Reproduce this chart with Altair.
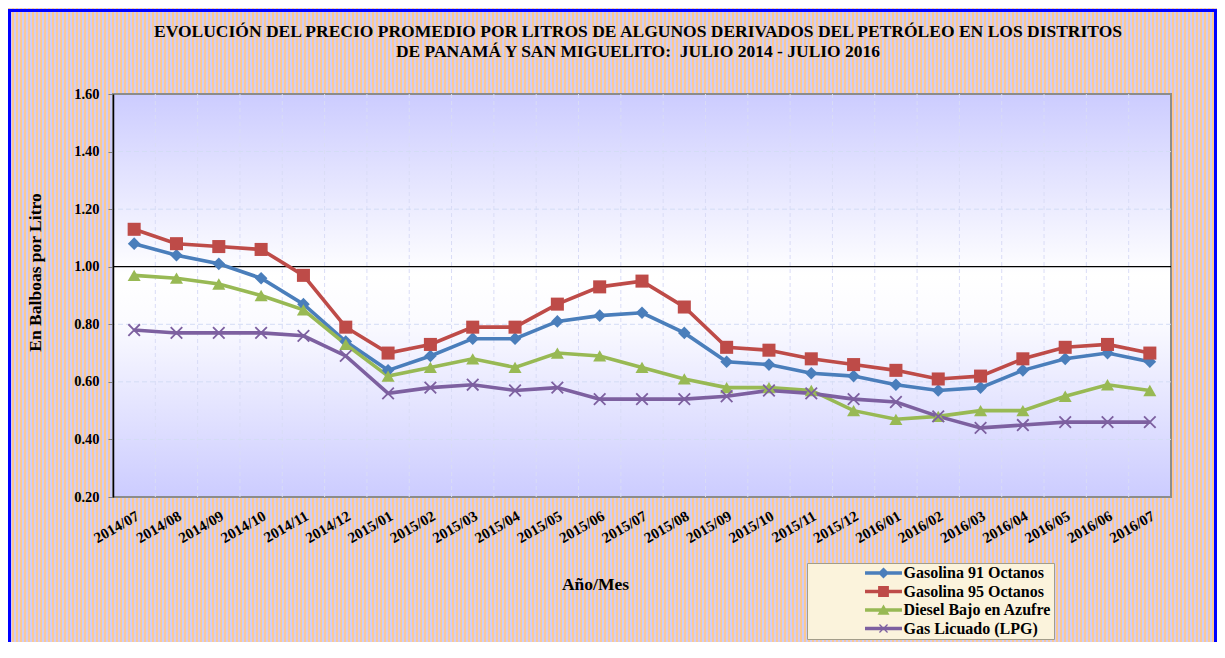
import altair as alt
import pandas as pd

# ---------------- data ----------------
meses = ["2014/07", "2014/08", "2014/09", "2014/10", "2014/11", "2014/12",
         "2015/01", "2015/02", "2015/03", "2015/04", "2015/05", "2015/06",
         "2015/07", "2015/08", "2015/09", "2015/10", "2015/11", "2015/12",
         "2016/01", "2016/02", "2016/03", "2016/04", "2016/05", "2016/06",
         "2016/07"]
gasolina91 = [1.08, 1.04, 1.01, 0.96, 0.87, 0.74, 0.64, 0.69, 0.75, 0.75, 0.81, 0.83,
              0.84, 0.77, 0.67, 0.66, 0.63, 0.62, 0.59, 0.57, 0.58, 0.64, 0.68, 0.70, 0.67]
gasolina95 = [1.13, 1.08, 1.07, 1.06, 0.97, 0.79, 0.70, 0.73, 0.79, 0.79, 0.87, 0.93,
              0.95, 0.86, 0.72, 0.71, 0.68, 0.66, 0.64, 0.61, 0.62, 0.68, 0.72, 0.73, 0.70]
diesel = [0.97, 0.96, 0.94, 0.90, 0.85, 0.73, 0.62, 0.65, 0.68, 0.65, 0.70, 0.69,
          0.65, 0.61, 0.58, 0.58, 0.57, 0.50, 0.47, 0.48, 0.50, 0.50, 0.55, 0.59, 0.57]
lpg = [0.78, 0.77, 0.77, 0.77, 0.76, 0.69, 0.56, 0.58, 0.59, 0.57, 0.58, 0.54,
       0.54, 0.54, 0.55, 0.57, 0.56, 0.54, 0.53, 0.48, 0.44, 0.45, 0.46, 0.46, 0.46]
series = ["Gasolina 91 Octanos", "Gasolina 95 Octanos", "Diesel Bajo en Azufre", "Gas Licuado (LPG)"]
y_ticks = [0.20, 0.40, 0.60, 0.80, 1.00, 1.20, 1.40, 1.60]
y_grid = [0.40, 0.60, 0.80, 1.20, 1.40]

titulo = ["EVOLUCIÓN DEL PRECIO PROMEDIO POR LITROS DE ALGUNOS DERIVADOS DEL PETRÓLEO EN LOS DISTRITOS",
          "DE PANAMÁ Y SAN MIGUELITO:\u00a0 JULIO 2014 - JULIO 2016"]

rows = []
for nombre, vals in zip(series, [gasolina91, gasolina95, diesel, lpg]):
    for m, v in zip(meses, vals):
        rows.append({"mes": m, "valor": v, "serie": nombre})
df = pd.DataFrame(rows)

# ---------------- styling ----------------
W, H = 1058, 403
PAD = {"left": 105, "top": 86, "right": 46, "bottom": 145}
TW = PAD["left"] + W + PAD["right"]
FONT = "Liberation Serif"
colores = ["#4a7ebb", "#be4b48", "#98b954", "#7d60a0"]

x_path = "M-1,-0.8L-0.8,-1L1,0.8L0.8,1Z M0.8,-1L1,-0.8L-0.8,1L-1,0.8Z"
formas = ["diamond", "square", "triangle-up", x_path]
tamanos = [160, 170, 170, 165]
LINE = "M-3.08,-0.29H3.08V0.29H-3.08Z "
formas_leyenda = [
    LINE + "M0,-0.92L0.92,0L0,0.92L-0.92,0Z",
    LINE + "M-0.9,-0.9H0.9V0.9H-0.9Z",
    LINE + "M0,-0.9L1,0.8H-1Z",
    LINE + "M-0.75,-0.6L-0.6,-0.75L0.75,0.6L0.6,0.75Z M0.6,-0.75L0.75,-0.6L-0.6,0.75L-0.75,0.6Z",
]

# striped page background (orange / lavender)
ORANGE, LAV = "#fbc994", "#cfcdf6"
stops = []
period, ow = 4.0, 1.6
k = 0.0
while k < TW:
    a = k / TW
    b = min((k + ow) / TW, 1.0)
    c = min((k + period) / TW, 1.0)
    stops += [alt.GradientStop(color=ORANGE, offset=a), alt.GradientStop(color=ORANGE, offset=b),
              alt.GradientStop(color=LAV, offset=b), alt.GradientStop(color=LAV, offset=c)]
    k += period
stripes_grad = alt.LinearGradient(gradient="linear", stops=stops, x1=0, x2=1, y1=0, y2=0)

plot_grad = alt.LinearGradient(
    gradient="linear", x1=0, x2=0, y1=0, y2=1,
    stops=[alt.GradientStop(color="#ccccff", offset=0),
           alt.GradientStop(color="#ffffff", offset=0.45),
           alt.GradientStop(color="#fbfbff", offset=0.56),
           alt.GradientStop(color="#ccccff", offset=1)])

one = alt.Data(values=[{"k": 1}])

x_scale = alt.Scale(type="band", domain=meses, paddingInner=0, paddingOuter=0)
x_axis = alt.Axis(title="Año/Mes", labelAngle=-30, labelAlign="right", labelBaseline="top",
                  labelPadding=11, labelFont=FONT, labelFontSize=15, labelFontWeight="bold",
                  labelColor="black", labelOverlap=False, ticks=False, domain=False,
                  titleFont=FONT, titleFontSize=17.5, titleFontWeight="bold", titleColor="black",
                  titleX=482, titleY=87, titleAlign="center", titleBaseline="middle", zindex=1)
y_scale = alt.Scale(domain=[0.2, 1.6], nice=False, zero=False)
y_axis = alt.Axis(title="En Balboas por Litro", values=y_ticks, format=".2f", grid=False,
                  labelFont=FONT, labelFontSize=14.5, labelFontWeight="bold", labelColor="black",
                  labelPadding=9, tickSize=5, tickColor="#808080", domainColor="black",
                  domainWidth=1.5, titleFont=FONT, titleFontSize=17.5, titleFontWeight="bold",
                  titleColor="black", titleAngle=270, titleX=-78, titleY=178,
                  titleAlign="center", titleBaseline="middle", zindex=1)

xenc = alt.X("mes:N", sort=meses, scale=x_scale, axis=x_axis)
yenc = alt.Y("valor:Q", scale=y_scale, axis=y_axis)

stripes = alt.Chart(one).mark_rect(fill=stripes_grad).encode(
    x=alt.value(-PAD["left"]), x2=alt.value(W + PAD["right"]),
    y=alt.value(-PAD["top"]), y2=alt.value(H + PAD["bottom"] + 20))

border = alt.Chart(one).mark_rect(fillOpacity=0, stroke="#0000ff", strokeWidth=3).encode(
    x=alt.value(-PAD["left"] + 1.5), x2=alt.value(W + PAD["right"] - 1.5),
    y=alt.value(-PAD["top"] + 2.5), y2=alt.value(H + PAD["bottom"] + 20))

plot_bg = alt.Chart(one).mark_rect(fill=plot_grad, stroke="#8c8c8c", strokeWidth=2).encode(
    x=alt.value(0), x2=alt.value(W), y=alt.value(0), y2=alt.value(H))

vgrid = alt.Chart(pd.DataFrame({"mes": meses[1:]})).mark_rule(
    color="#d9dcf6", strokeWidth=1, strokeDash=[4, 3]).encode(
    x=alt.X("mes:N", sort=meses, scale=x_scale, axis=x_axis, bandPosition=0))

hgrid = alt.Chart(pd.DataFrame({"valor": y_grid})).mark_rule(
    color="#d3dcf5", strokeWidth=1, strokeDash=[5, 3]).encode(y=yenc)

uno = alt.Chart(one).mark_rule(color="black", strokeWidth=1.3).encode(y=alt.datum(1.0))

serie_layers = []
for nombre, col in zip(series, colores):
    serie_layers.append(
        alt.Chart(df).transform_filter(alt.datum.serie == nombre)
        .mark_line(strokeWidth=3.6, color=col)
        .encode(x=xenc, y=yenc))
for nombre, col, forma, tam in zip(series, colores, formas, tamanos):
    serie_layers.append(
        alt.Chart(df).transform_filter(alt.datum.serie == nombre)
        .mark_point(filled=True, size=tam, opacity=1, fill=col, shape=forma, strokeWidth=0)
        .encode(x=xenc, y=yenc))

leg = alt.Legend(title=None, orient="none", legendX=694, legendY=469, fillColor="#fbf3dc",
                 strokeColor="#a39d8a", padding=2, symbolSize=144, symbolOffset=66.5,
                 labelOffset=12, labelFont=FONT, labelFontSize=16, labelFontWeight="bold",
                 labelColor="black", rowPadding=2.5, symbolStrokeWidth=0, symbolOpacity=1,
                 labelLimit=500, labelExpr="datum.label + '" + "\u00a0" * 15 + "'", zindex=1)

legend_layer = alt.Chart(df).mark_point(filled=True, size=144).encode(
    color=alt.Color("serie:N", scale=alt.Scale(domain=series, range=colores), legend=leg),
    shape=alt.Shape("serie:N", scale=alt.Scale(domain=series, range=formas_leyenda), legend=leg),
    opacity=alt.value(0))

chart = alt.layer(stripes, border, plot_bg, vgrid, hgrid, uno, *serie_layers, legend_layer).properties(
    width=W, height=H, padding=PAD, autosize=alt.AutoSizeParams(type="none"),
    background="#e2cbd6",
    title=alt.TitleParams(text=titulo, font=FONT, fontSize=17.5, fontWeight="bold", color="black",
                          anchor="middle", offset=-52, dx=-4, lineHeight=20, zindex=1),
).configure_view(strokeWidth=0)

chart.save("out.html", embed_options={"renderer": "svg", "actions": False})
